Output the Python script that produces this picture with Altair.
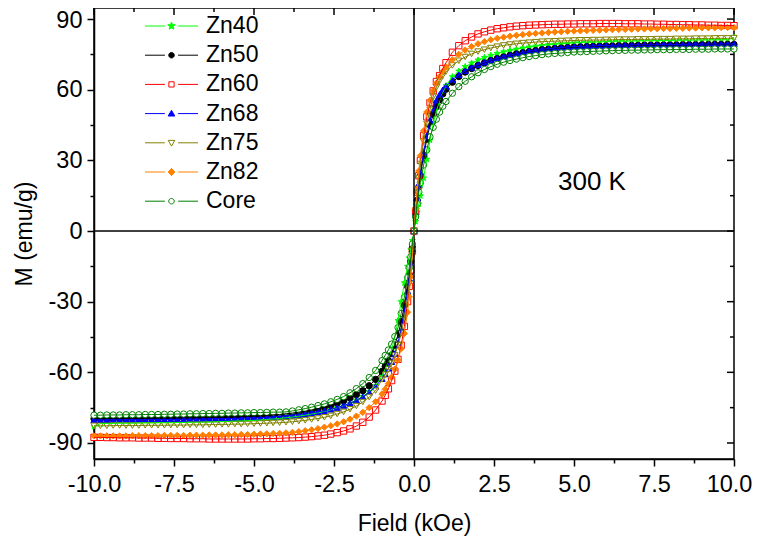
import altair as alt
import pandas as pd

NAMES = ["Zn40", "Zn50", "Zn60", "Zn68", "Zn75", "Zn82", "Core"]
COLORS = ["#00ff00", "#000000", "#ff0000", "#0000ff", "#808000", "#ff8000", "#008000"]
FILLS = ["#00ff00", "#000000", "#ffffff", "#0000ff", "#ffffff", "#ff8000", "#ffffff"]

FIELD = ([-10.0, -9.8, -9.6, -9.4, -9.2, -9.0, -8.8, -8.6, -8.4, -8.2, -8.0, -7.8, -7.6, -7.4, -7.2,
          -7.0, -6.8, -6.6, -6.4, -6.2, -6.0, -5.8, -5.6, -5.4, -5.2, -5.0, -4.8, -4.6, -4.4, -4.2]
         + [-4.0, -3.8, -3.6, -3.4, -3.2, -3.0, -2.8, -2.6, -2.4, -2.2, -2.0, -1.8, -1.6, -1.4, -1.2]
         + [-1.0, -0.9, -0.8, -0.7, -0.6, -0.5, -0.4, -0.3, -0.2, -0.15, -0.1, -0.05]
         + [0.0]
         + [0.05, 0.1, 0.15, 0.2, 0.3, 0.4, 0.5, 0.6, 0.7, 0.8, 0.9, 1.0]
         + [1.2, 1.4, 1.6, 1.8, 2.0, 2.2, 2.4, 2.6, 2.8, 3.0, 3.2, 3.4, 3.6, 3.8, 4.0]
         + [4.2, 4.4, 4.6, 4.8, 5.0, 5.2, 5.4, 5.6, 5.8, 6.0, 6.2, 6.4, 6.6, 6.8, 7.0,
            7.2, 7.4, 7.6, 7.8, 8.0, 8.2, 8.4, 8.6, 8.8, 9.0, 9.2, 9.4, 9.6, 9.8, 10.0])

ZN40 = ([-83.0, -81.8, -81.7, -81.7, -81.6, -81.6, -81.6, -81.5, -81.5, -81.5, -81.4, -81.4, -81.4, -81.3, -81.3,
         -81.2, -81.2, -81.1, -81.1, -81.0, -80.9, -80.8, -80.7, -80.6, -80.5, -80.4, -80.2, -80.0, -79.8, -79.6]
        + [-79.3, -79.0, -78.6, -78.2, -77.7, -77.2, -76.6, -75.9, -75.1, -74.2, -73.1, -71.8, -70.2, -68.2, -65.7]
        + [-61.5, -58.5, -55.0, -50.5, -45.0, -38.0, -30.0, -22.0, -15.0, -11.5, -8.0, -4.0]
        + [0.0]
        + [4.0, 8.0, 11.5, 15.0, 22.5, 30.5, 38.5, 45.5, 51.0, 55.3, 58.8, 61.7]
        + [65.5, 67.9, 69.8, 71.3, 72.6, 73.7, 74.6, 75.4, 76.1, 76.7, 77.2, 77.7, 78.1, 78.5, 78.8]
        + [79.1, 79.3, 79.5, 79.7, 79.9, 80.0, 80.1, 80.2, 80.3, 80.4, 80.5, 80.6, 80.6, 80.7, 80.7,
           80.8, 80.8, 80.9, 80.9, 80.9, 81.0, 81.0, 81.0, 81.1, 81.1, 81.1, 81.2, 81.2, 81.3, 82.2])

ZN50 = ([-79.7, -79.7, -79.7, -79.7, -79.7, -79.6, -79.6, -79.6, -79.6, -79.5, -79.5, -79.5, -79.4, -79.4, -79.4,
         -79.3, -79.3, -79.2, -79.2, -79.1, -79.1, -79.0, -78.9, -78.8, -78.7, -78.6, -78.5, -78.3, -78.1, -77.9]
        + [-77.6, -77.3, -76.9, -76.5, -76.0, -75.4, -74.8, -74.0, -73.1, -72.1, -70.9, -69.5, -67.8, -65.7, -63.0]
        + [-59.6, -57.5, -55.0, -52.0, -48.5, -44.0, -38.5, -31.5, -23.5, -18.5, -13.0, -7.0]
        + [0.0]
        + [7.0, 13.0, 18.5, 23.5, 32.0, 39.0, 45.0, 49.5, 53.0, 55.8, 58.2, 60.2]
        + [63.2, 65.6, 67.5, 69.0, 70.3, 71.4, 72.4, 73.2, 73.9, 74.6, 75.2, 75.7, 76.2, 76.6, 77.0]
        + [77.2, 77.5, 77.7, 77.9, 78.1, 78.2, 78.3, 78.4, 78.5, 78.6, 78.6, 78.7, 78.7, 78.8, 78.8,
           78.9, 78.9, 78.9, 79.0, 79.0, 79.0, 79.1, 79.1, 79.1, 79.1, 79.2, 79.2, 79.2, 79.2, 79.2])

ZN60 = ([-87.6, -87.6, -87.7, -87.7, -87.8, -87.8, -87.8, -87.9, -87.9, -87.9, -88.0, -88.0, -88.1, -88.1, -88.1,
         -88.2, -88.2, -88.2, -88.3, -88.3, -88.3, -88.3, -88.3, -88.3, -88.3, -88.2, -88.2, -88.1, -88.1, -88.0]
        + [-87.9, -87.8, -87.7, -87.5, -87.3, -87.0, -86.7, -86.2, -85.6, -84.9, -84.0, -82.8, -81.2, -79.0, -76.0]
        + [-72.2, -69.8, -67.0, -63.5, -59.5, -54.5, -48.5, -40.5, -30.0, -23.5, -16.5, -8.5]
        + [0.0]
        + [8.5, 16.5, 23.5, 30.0, 40.5, 48.5, 54.5, 59.5, 63.5, 66.0, 69.0, 71.5]
        + [75.9, 78.7, 80.8, 82.4, 83.7, 84.6, 85.3, 85.9, 86.3, 86.7, 87.0, 87.2, 87.4, 87.5, 87.6]
        + [87.7, 87.8, 87.8, 87.9, 87.9, 88.0, 88.0, 88.0, 88.1, 88.1, 88.1, 88.1, 88.0, 88.0, 88.0,
           87.9, 87.9, 87.8, 87.8, 87.7, 87.7, 87.6, 87.6, 87.5, 87.5, 87.4, 87.4, 87.3, 87.3, 87.2])

ZN68 = ([-80.2, -80.2, -80.2, -80.2, -80.2, -80.1, -80.1, -80.1, -80.1, -80.1, -80.0, -80.0, -80.0, -80.0, -79.9,
         -79.9, -79.9, -79.8, -79.8, -79.7, -79.7, -79.6, -79.6, -79.5, -79.4, -79.3, -79.2, -79.1, -78.9, -78.7]
        + [-78.5, -78.2, -77.9, -77.6, -77.2, -76.8, -76.3, -75.7, -75.0, -74.1, -73.1, -71.9, -70.4, -68.5, -66.0]
        + [-62.7, -60.7, -58.3, -55.5, -52.0, -47.5, -41.5, -34.0, -25.5, -20.0, -14.0, -7.5]
        + [0.0]
        + [7.5, 14.0, 20.0, 25.0, 33.5, 40.5, 47.0, 52.0, 55.5, 58.0, 60.0, 61.5]
        + [64.2, 66.4, 68.1, 69.5, 70.7, 71.7, 72.6, 73.4, 74.1, 74.7, 75.3, 75.8, 76.3, 76.7, 77.1]
        + [77.4, 77.7, 77.9, 78.1, 78.3, 78.4, 78.5, 78.6, 78.7, 78.8, 78.8, 78.9, 78.9, 79.0, 79.0,
           79.1, 79.1, 79.1, 79.2, 79.2, 79.2, 79.3, 79.3, 79.3, 79.3, 79.4, 79.4, 79.4, 79.4, 79.4])

ZN75 = ([-82.7, -82.7, -82.7, -82.6, -82.6, -82.6, -82.6, -82.6, -82.5, -82.5, -82.5, -82.5, -82.4, -82.4, -82.4,
         -82.3, -82.3, -82.3, -82.2, -82.2, -82.1, -82.1, -82.0, -82.0, -81.9, -81.8, -81.7, -81.6, -81.5, -81.4]
        + [-81.2, -81.0, -80.7, -80.4, -80.0, -79.6, -79.1, -78.5, -77.7, -76.8, -75.7, -74.3, -72.6, -70.5, -67.8]
        + [-63.0, -61.0, -58.7, -56.0, -52.8, -48.5, -43.5, -37.0, -28.0, -22.5, -16.0, -8.5]
        + [0.0]
        + [8.5, 16.0, 22.5, 28.5, 38.0, 45.5, 51.5, 57.0, 61.0, 63.8, 66.0, 67.7]
        + [70.3, 72.3, 73.9, 75.2, 76.2, 77.0, 77.7, 78.3, 78.8, 79.2, 79.5, 79.8, 80.0, 80.2, 80.4]
        + [80.5, 80.6, 80.7, 80.8, 80.9, 81.0, 81.0, 81.1, 81.1, 81.2, 81.2, 81.3, 81.3, 81.3, 81.4,
           81.4, 81.4, 81.5, 81.5, 81.5, 81.6, 81.6, 81.6, 81.7, 81.7, 81.7, 81.8, 81.8, 81.8, 81.9])

ZN82 = ([-87.0, -87.0, -87.0, -87.0, -87.0, -87.0, -86.9, -86.9, -86.9, -86.9, -86.9, -86.8, -86.8, -86.8, -86.8,
         -86.7, -86.7, -86.7, -86.6, -86.6, -86.6, -86.5, -86.5, -86.4, -86.4, -86.3, -86.2, -86.1, -86.0, -85.9]
        + [-85.7, -85.5, -85.2, -84.8, -84.4, -83.9, -83.3, -82.7, -81.9, -81.0, -79.9, -78.6, -77.0, -75.0, -72.5]
        + [-69.2, -67.2, -64.8, -62.0, -58.7, -54.8, -50.0, -43.5, -34.5, -28.0, -19.5, -10.0]
        + [0.0]
        + [9.5, 18.0, 25.5, 32.0, 42.5, 50.5, 55.5, 59.5, 62.8, 65.5, 67.8, 69.7]
        + [72.7, 75.0, 76.8, 78.3, 79.5, 80.4, 81.2, 81.8, 82.3, 82.7, 83.1, 83.4, 83.7, 83.9, 84.1]
        + [84.3, 84.5, 84.6, 84.8, 84.9, 85.0, 85.1, 85.2, 85.3, 85.4, 85.5, 85.6, 85.6, 85.7, 85.8,
           85.8, 85.9, 85.9, 86.0, 86.0, 86.1, 86.1, 86.2, 86.2, 86.3, 86.3, 86.3, 86.4, 86.4, 86.4])

CORE = ([-78.2, -78.2, -78.1, -78.1, -78.1, -78.0, -78.0, -78.0, -77.9, -77.9, -77.9, -77.8, -77.8, -77.7, -77.7,
         -77.6, -77.6, -77.5, -77.5, -77.4, -77.4, -77.3, -77.3, -77.2, -77.2, -77.1, -77.1, -77.0, -76.9, -76.9]
        + [-76.8, -76.4, -75.9, -75.4, -74.8, -74.1, -73.4, -72.5, -71.5, -70.3, -68.7, -66.9, -64.8, -62.2, -59.2]
        + [-55.0, -52.8, -50.5, -48.0, -44.8, -41.0, -35.0, -28.0, -19.8, -15.5, -11.0, -5.5]
        + [0.0]
        + [6.0, 11.5, 16.5, 20.5, 28.0, 34.5, 40.0, 44.0, 47.5, 50.5, 53.0, 55.0]
        + [58.5, 61.3, 63.6, 65.5, 67.2, 68.6, 69.8, 70.8, 71.7, 72.4, 73.0, 73.6, 74.1, 74.5, 74.9]
        + [75.2, 75.4, 75.6, 75.8, 76.0, 76.1, 76.2, 76.3, 76.4, 76.5, 76.6, 76.7, 76.7, 76.8, 76.8,
           76.9, 76.9, 77.0, 77.0, 77.0, 77.1, 77.1, 77.1, 77.2, 77.2, 77.2, 77.3, 77.3, 77.3, 77.3])

SERIES = [ZN40, ZN50, ZN60, ZN68, ZN75, ZN82, CORE]

X_MAJOR = [-10.0, -7.5, -5.0, -2.5, 0.0, 2.5, 5.0, 7.5, 10.0]
X_MINOR = [-8.75, -6.25, -3.75, -1.25, 1.25, 3.75, 6.25, 8.75]
Y_MAJOR = [-90, -60, -30, 0, 30, 60, 90]
Y_MINOR = [-75, -45, -15, 15, 45, 75]
ZERO = [0.0]
ANNOT_X = [4.5]
ANNOT_Y = [21.0]
ANNOT_TEXT = ["300 K"]

# marker shapes for the plot
STAR = ("M0,-1L0.235,-0.324L0.951,-0.309L0.38,0.124L0.588,0.809L0,0.4L-0.588,0.809"
        "L-0.38,0.124L-0.951,-0.309L-0.235,-0.324Z")
SHAPES = [STAR, "circle", "square", "triangle-up", "triangle-down", "diamond", "circle"]

# legend symbols: line - marker - line
LN = "M-2.41,0H-0.6M0.6,0H2.41"
LEG_SHAPES = [
    LN + "M0,-0.36L0.088,-0.121L0.342,-0.111L0.143,0.046L0.212,0.291L0,0.15L-0.212,0.291"
         "L-0.143,0.046L-0.342,-0.111L-0.088,-0.121Z",
    LN + "M0.25,0A0.25,0.25 0 1,1 -0.25,0A0.25,0.25 0 1,1 0.25,0Z",
    LN + "M-0.24,-0.24H0.24V0.24H-0.24Z",
    LN + "M0,-0.3L0.3,0.22L-0.3,0.22Z",
    LN + "M0,0.3L0.3,-0.22L-0.3,-0.22Z",
    LN + "M0,-0.33L0.3,0L0,0.33L-0.3,0Z",
    LN + "M0.25,0A0.25,0.25 0 1,1 -0.25,0A0.25,0.25 0 1,1 0.25,0Z",
]

for s in SERIES:
    assert len(s) == len(FIELD), (len(s), len(FIELD))

rows = []
for name, vals in zip(NAMES, SERIES):
    for f, m in zip(FIELD, vals):
        rows.append({"field": f, "M": m, "series": name})
df = pd.DataFrame(rows)

FONT = "Liberation Sans"
W, H = 640, 451

xs = alt.Scale(domain=[-10, 10], nice=False, zero=False)
ys = alt.Scale(domain=[-96.8, 94.7], nice=False, zero=False)
stroke_scale = alt.Scale(domain=NAMES, range=COLORS)
fill_scale = alt.Scale(domain=NAMES, range=FILLS)

minus_fix = "replace(format(datum.value, '{f}'), '\u2212', '-')"
x_tick_size = {"condition": {"test": "abs(datum.value % 2.5) < 0.01", "value": 7}, "value": 4}
y_tick_size = {"condition": {"test": "abs(datum.value % 30) < 0.01", "value": 7}, "value": 4}
x_label_shift = {"condition": {"test": "datum.value > 9.9", "value": -5}, "value": 0}
y_label_shift = {"condition": {"test": "datum.value > 89", "value": 1.5}, "value": 0}

common_axis = dict(grid=False, tickColor="black", tickWidth=1.5, domainColor="black", domainWidth=1.5,
                   labelFont=FONT, labelFontSize=23.5, labelColor="black", titleFont=FONT,
                   titleFontSize=23, titleColor="black", titleFontWeight="normal",
                   labelFlush=False, labelOverlap=False)

x_bottom = alt.Axis(orient="bottom", values=X_MAJOR + X_MINOR, tickSize=x_tick_size,
                    labelExpr="abs(datum.value % 2.5) < 0.01 ? " + minus_fix.format(f=".1f") + " : ''",
                    labelOffset=x_label_shift,
                    labelPadding=6, title="Field (kOe)", titlePadding=17, **common_axis)
y_left = alt.Axis(orient="left", values=Y_MAJOR + Y_MINOR, tickSize=y_tick_size,
                  labelExpr="abs(datum.value % 30) < 0.01 ? " + minus_fix.format(f="d") + " : ''",
                  labelOffset=y_label_shift,
                  labelPadding=5, title="M (emu/g)", titlePadding=12, **common_axis)

zero_v = alt.Chart(pd.DataFrame({"v": ZERO})).mark_rule(color="black", strokeWidth=1.5).encode(
    x=alt.X("v:Q", scale=xs, axis=None))
zero_h = alt.Chart(pd.DataFrame({"v": ZERO})).mark_rule(color="black", strokeWidth=1.5).encode(
    y=alt.Y("v:Q", scale=ys, axis=None))

# mirrored inward ticks on the top and right edges of the frame
def top_ticks(vals, length):
    return alt.Chart(pd.DataFrame({"v": vals})).mark_rule(color="black", strokeWidth=1.5).encode(
        x=alt.X("v:Q", scale=xs, axis=None), y=alt.value(0), y2=alt.value(length))

def right_ticks(vals, length):
    return alt.Chart(pd.DataFrame({"v": vals})).mark_rule(color="black", strokeWidth=1.5).encode(
        y=alt.Y("v:Q", scale=ys, axis=None), x=alt.value(W), x2=alt.value(W - length))

lines = alt.Chart(df).mark_line(strokeWidth=1).encode(
    x=alt.X("field:Q", scale=xs, axis=None),
    y=alt.Y("M:Q", scale=ys, axis=None),
    stroke=alt.Stroke("series:N", scale=stroke_scale, legend=None),
)

points = alt.Chart(df).mark_point(size=40, strokeWidth=1, opacity=1).encode(
    x=alt.X("field:Q", scale=xs, axis=x_bottom),
    y=alt.Y("M:Q", scale=ys, axis=y_left),
    stroke=alt.Stroke("series:N", scale=stroke_scale, legend=None),
    fill=alt.Fill("series:N", scale=fill_scale, legend=None),
    shape=alt.Shape("series:N", scale=alt.Scale(domain=NAMES, range=SHAPES), legend=None),
)

leg = dict(orient="none", legendX=66, legendY=6.5, title=None)
legend_layer = alt.Chart(pd.DataFrame({"series": NAMES})).mark_point(size=0, strokeWidth=1, opacity=1).encode(
    stroke=alt.Stroke("series:N", scale=stroke_scale, legend=alt.Legend(**leg)),
    fill=alt.Fill("series:N", scale=fill_scale, legend=alt.Legend(**leg)),
    shape=alt.Shape("series:N", scale=alt.Scale(domain=NAMES, range=LEG_SHAPES), legend=alt.Legend(**leg)),
)

annot = alt.Chart(pd.DataFrame({"x": ANNOT_X, "y": ANNOT_Y, "t": ANNOT_TEXT})).mark_text(
    align="left", baseline="middle", font=FONT, fontSize=26, color="black").encode(
    x=alt.X("x:Q", scale=xs, axis=None), y=alt.Y("y:Q", scale=ys, axis=None), text="t:N")

chart = alt.layer(
    points,
    zero_v, zero_h,
    top_ticks(X_MAJOR, 7), top_ticks(X_MINOR, 4), right_ticks(Y_MAJOR, 7), right_ticks(Y_MINOR, 4),
    lines, annot, legend_layer,
).resolve_scale(
    stroke="independent", fill="independent", shape="independent"
).resolve_axis(x="independent", y="independent").properties(
    width=W, height=H,
    autosize=alt.AutoSizeParams(type="none"),
    padding={"left": 86, "top": 0, "right": 18, "bottom": 77},
).configure_view(stroke="black", strokeWidth=1.5).configure_legend(
    symbolSize=484, symbolStrokeWidth=1, labelFont=FONT, labelFontSize=23, labelColor="black",
    labelOffset=23, rowPadding=5.2, padding=0, symbolLimit=0,
)

chart.save("out.html", embed_options={"renderer": "svg", "actions": False})
